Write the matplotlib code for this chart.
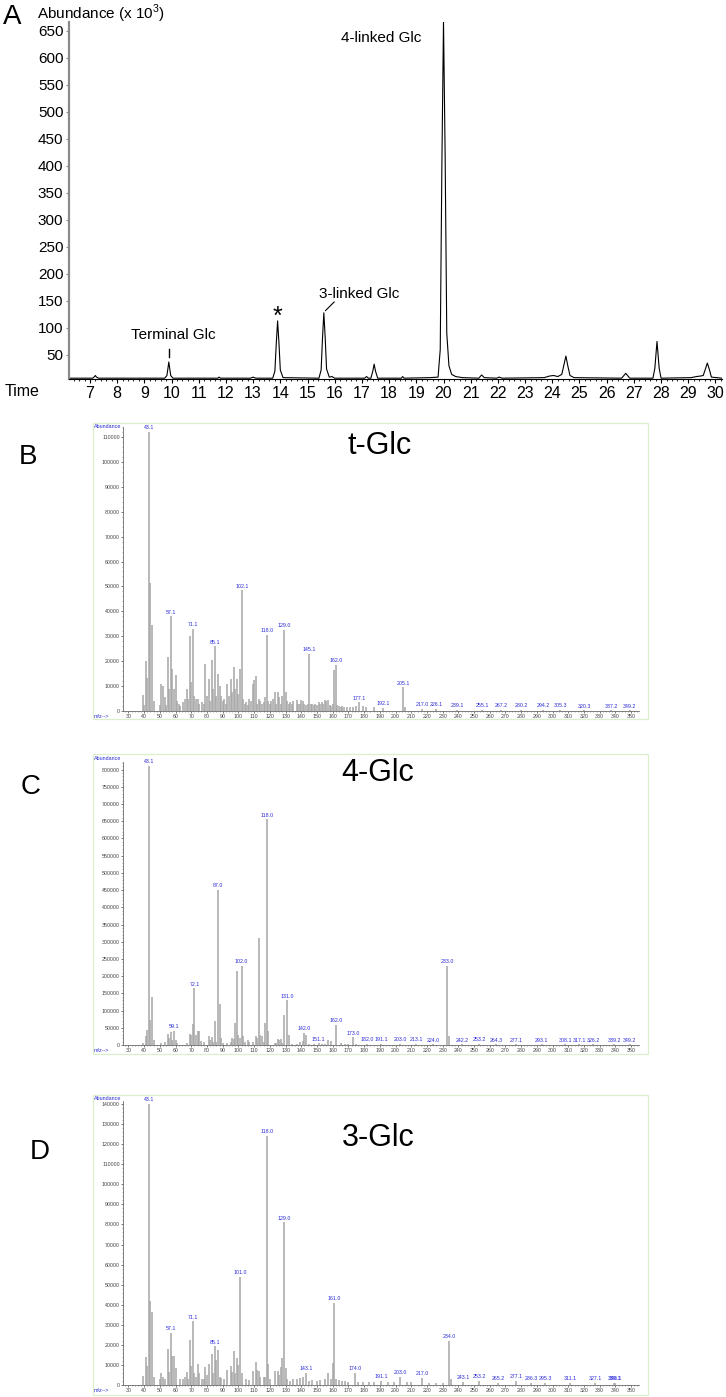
import matplotlib
matplotlib.use('Agg')
import matplotlib.pyplot as plt
from matplotlib.patches import Rectangle
from matplotlib.ticker import MultipleLocator

plt.rcParams['font.family'] = ['Liberation Sans', 'DejaVu Sans']
plt.rcParams['mathtext.fontset'] = 'custom'
plt.rcParams['mathtext.rm'] = 'Liberation Sans'

# ---- panel A: total ion chromatogram (time in min, abundance x 10^3) ----
chrom_time = [
    6.25, 7.10, 7.17, 7.20, 7.24, 7.32,
    9.75, 9.83, 9.87, 9.90, 9.93, 9.97, 10.05,
    11.7, 11.75, 11.8, 12.9, 13.0, 13.1,
    13.72, 13.80, 13.85, 13.90, 13.95, 14.00, 14.10,
    15.42, 15.50, 15.55, 15.60, 15.65, 15.70, 15.80, 15.90, 16.00,
    17.10, 17.17, 17.24, 17.33, 17.40, 17.45, 17.50, 17.58,
    18.45, 18.50, 18.55,
    19.50, 19.80, 19.88, 19.94, 20.00, 20.06, 20.12, 20.20, 20.30, 20.45, 20.70,
    21.30, 21.40, 21.50, 21.95, 22.05, 22.15,
    23.70, 23.90, 24.05, 24.20, 24.35, 24.42, 24.50, 24.57, 24.65, 24.80,
    26.55, 26.65, 26.70, 26.75, 26.85,
    27.70, 27.77, 27.85, 27.93, 28.00,
    29.10, 29.30, 29.45, 29.55, 29.63, 29.70, 29.77, 29.85, 30.24]
chrom_abund = [
    7, 7, 10, 12, 9, 7,
    7, 12, 26, 37, 26, 12, 7,
    7, 9, 7, 7, 9, 7,
    7, 20, 70, 113, 72, 22, 8,
    7, 22, 80, 128, 82, 24, 9, 10, 7,
    7, 10, 7, 7, 20, 33, 20, 7,
    7, 10, 7,
    8, 9, 60, 400, 668, 420, 90, 30, 14, 10, 8,
    7, 13, 8, 7, 9, 7,
    8, 11, 12, 10, 14, 30, 48, 30, 12, 8,
    7, 13, 16, 13, 7,
    7, 25, 75, 25, 7,
    8, 10, 11, 12, 24, 35, 24, 9, 7]
time_ticks = list(range(7, 31))
abund_ticks = list(range(50, 651, 50))

# ---- panel B: t-Glc spectrum ----
b_mz = [39, 40, 41, 42, 43, 44, 45, 46, 50, 51,
        52, 53, 54, 55, 56, 57, 58, 59, 60, 61,
        62, 63, 65, 66, 67, 68, 69, 70, 71, 72,
        73, 74, 75, 77, 78, 79, 80, 81, 82, 83,
        84, 85, 86, 87, 88, 89, 90, 91, 92, 93,
        94, 95, 96, 97, 98, 99, 100, 101, 102, 103,
        104, 105, 106, 107, 108, 109, 110, 111, 112, 113,
        114, 115, 116, 117, 118, 119, 120, 121, 122, 123,
        124, 125, 126, 127, 128, 129, 130, 131, 132, 133,
        134, 135, 137, 138, 139, 140, 141, 142, 143, 144,
        145, 146, 147, 148, 149, 150, 151, 152, 153, 154,
        155, 156, 157, 158, 159, 160, 161, 162, 163, 164,
        165, 166, 167, 169, 171, 173, 175, 177, 179, 181,
        186, 192, 205, 206, 217, 226, 239, 255, 267, 280,
        294, 305, 320, 337, 349]
b_int = [6500, 2500, 20000, 13300, 112000, 51300, 34500, 4000, 2500, 11000,
         10000, 5500, 2500, 21800, 8900, 38000, 16700, 9000, 14400, 4000,
         3000, 2000, 3500, 5000, 9000, 5000, 30000, 11700, 33000, 6000,
         5000, 5000, 3000, 3500, 3000, 18800, 6000, 13000, 4000, 20300,
         9000, 26000, 6000, 14700, 9900, 6000, 4000, 5000, 3000, 10800,
         6000, 12800, 7600, 17700, 9000, 13000, 7000, 16700, 48500, 5000,
         3000, 3500, 2500, 5000, 4000, 10800, 12500, 14100, 3000, 5000,
         4000, 3000, 3500, 5500, 30500, 4000, 3000, 4000, 5000, 7800,
         3000, 7800, 5500, 3000, 6000, 32500, 7500, 4000, 3000, 3500,
         3000, 4000, 4500, 3000, 3000, 4500, 4000, 3000, 2500, 3000,
         23000, 3000, 3000, 2500, 3000, 2500, 3500, 3000, 3500, 3000,
         4500, 4000, 4500, 2500, 2000, 3000, 16500, 18500, 2500, 2000,
         1500, 2000, 1500, 1500, 1500, 1500, 2000, 3500, 2000, 1500,
         1500, 1200, 9500, 1500, 800, 800, 600, 500, 500, 400,
         400, 400, 300, 300, 300]
b_labels = ['43.1', '57.1', '71.1', '85.1', '102.1', '118.0', '129.0', '145.1',
            '162.0', '177.1', '192.1', '205.1', '217.0', '226.1', '239.1', '255.1',
            '267.2', '280.2', '294.2', '305.3', '320.3', '337.2', '349.2']
b_yticks = list(range(0, 110001, 10000))

# ---- panel C: 4-Glc spectrum ----
c_mz = [39, 41, 42, 43, 44, 45, 46, 51, 53, 55,
        56, 57, 58, 59, 60, 61, 67, 69, 70, 71,
        72, 73, 74, 75, 76, 78, 81, 82, 83, 84,
        85, 86, 87, 88, 89, 90, 93, 95, 96, 97,
        98, 99, 100, 101, 102, 103, 104, 106, 107, 109,
        111, 112, 113, 114, 115, 116, 117, 118, 119, 123,
        124, 125, 126, 127, 128, 129, 131, 132, 134, 137,
        139, 141, 142, 143, 145, 148, 151, 153, 155, 157,
        159, 162, 165, 168, 170, 173, 175, 182, 191, 203,
        213, 224, 233, 234, 242, 253, 264, 277, 293, 308,
        317, 326, 339, 349]
c_int = [5000, 25000, 45000, 810000, 72000, 140000, 15000, 5000, 10000, 33000,
         20000, 38000, 15000, 42000, 15000, 5000, 5000, 32000, 30000, 62000,
         165000, 30000, 42000, 40000, 12000, 8000, 25000, 15000, 22000, 10000,
         70000, 10000, 450000, 120000, 20000, 5000, 5000, 10000, 20000, 18000,
         65000, 215000, 30000, 20000, 230000, 25000, 10000, 15000, 8000, 10000,
         25000, 20000, 310000, 30000, 25000, 10000, 65000, 655000, 40000, 5000,
         5000, 18000, 15000, 18000, 5000, 88000, 130000, 28000, 4000, 4000,
         10000, 12000, 35000, 30000, 4000, 3000, 5000, 3000, 4000, 15000,
         12000, 58000, 5000, 3000, 3000, 22000, 3000, 3000, 3000, 3000,
         2500, 2000, 230000, 25000, 2000, 3000, 2000, 2000, 1500, 1500,
         1500, 1500, 1500, 1500]
c_labels = ['43.1', '59.1', '72.1', '87.0', '102.0', '118.0', '131.0', '142.0',
            '151.1', '162.0', '173.0', '182.0', '191.1', '203.0', '213.1', '224.0',
            '233.0', '242.2', '253.2', '264.3', '277.1', '293.1', '308.1', '317.1',
            '326.2', '339.2', '349.2']
c_yticks = list(range(0, 800001, 50000))

# ---- panel D: 3-Glc spectrum ----
d_mz = [39, 41, 42, 43, 44, 45, 46, 50, 51, 52,
        53, 55, 56, 57, 58, 59, 60, 63, 65, 66,
        67, 68, 69, 70, 71, 72, 73, 74, 75, 77,
        78, 79, 80, 81, 83, 84, 85, 86, 87, 88,
        89, 91, 93, 95, 96, 97, 98, 99, 100, 101,
        102, 105, 107, 109, 111, 112, 113, 114, 116, 117,
        118, 119, 120, 123, 125, 126, 127, 128, 129, 130,
        131, 133, 135, 137, 139, 141, 143, 145, 147, 150,
        152, 155, 157, 159, 160, 161, 162, 164, 166, 168,
        170, 174, 176, 179, 183, 186, 191, 195, 199, 203,
        207, 210, 217, 221, 226, 230, 234, 235, 243, 253,
        265, 277, 286, 295, 311, 327, 339, 340]
d_int = [4600, 14000, 9300, 140000, 42000, 36500, 4000, 3000, 6000, 4000,
         3000, 18000, 6600, 26000, 14600, 14600, 8500, 3000, 3000, 4000,
         6600, 3000, 22600, 9300, 31700, 6000, 4000, 10600, 6000, 3000,
         3000, 8800, 5000, 10300, 15300, 6000, 19300, 12600, 17600, 4000,
         3500, 3000, 7600, 9300, 6300, 16800, 6000, 13600, 10100, 54000,
         6000, 3000, 2500, 7000, 11600, 7300, 7000, 4000, 4000, 4000,
         124000, 10600, 3000, 7000, 7000, 5000, 9000, 13300, 81000, 8300,
         3000, 2000, 3000, 3000, 3500, 4000, 6000, 2000, 2500, 2000,
         2500, 3000, 6000, 3000, 11000, 41000, 3000, 2500, 2000, 2000,
         1500, 6000, 1500, 1500, 1500, 1500, 2000, 1500, 1500, 4000,
         1500, 1500, 3500, 1200, 1000, 1000, 22000, 3000, 1500, 2000,
         1000, 2000, 1000, 1000, 1000, 1000, 1000, 1000]
d_labels = ['43.1', '57.1', '71.1', '85.1', '101.0', '118.0', '129.0', '143.1',
            '161.0', '174.0', '191.1', '203.0', '217.0', '234.0', '243.1', '253.2',
            '265.2', '277.1', '286.3', '295.3', '311.1', '327.1', '339.1', '340.1']
d_yticks = list(range(0, 140001, 10000))

mz_ticks = list(range(30, 351, 10))

W, H = 726, 1397
fig = plt.figure(figsize=(W / 100, H / 100), dpi=100)


def box(l, t, r, b):
    return [l / W, 1 - b / H, (r - l) / W, (b - t) / H]


def ftext(x, y, s, **kw):
    fig.text(x / W, 1 - y / H, s, **kw)


# ----- A -----
ax = fig.add_axes(box(69, 22, 722, 379))
ax.plot(chrom_time, chrom_abund, color='black', lw=0.8)
ax.set_xlim(6.23, 30.24)
ax.set_ylim(5.5, 666)
ax.spines['top'].set_visible(False)
ax.spines['right'].set_visible(False)
ax.spines['left'].set_color('#8a8a8a')
ax.spines['left'].set_linewidth(1.6)
ax.spines['bottom'].set_linewidth(0.8)
ax.set_yticks(abund_ticks)
ax.set_xticks(time_ticks)
ax.xaxis.set_minor_locator(MultipleLocator(0.2))
ax.tick_params(axis='y', labelsize=11, length=2, pad=2, color='#8a8a8a')
ax.tick_params(axis='x', which='major', labelsize=11.5, length=3, pad=2)
ax.tick_params(axis='x', which='minor', length=1.5, width=0.6)

ax.text(17.72, 636, '4-linked Glc', fontsize=11, ha='center', va='center')
ax.text(16.9, 163, '3-linked Glc', fontsize=11, ha='center', va='center')
ax.plot([15.66, 15.98], [132, 148], color='black', lw=0.8)
ax.text(13.9, 121, '*', fontsize=18, ha='center', va='center')
ax.text(10.05, 87, 'Terminal Glc', fontsize=11, ha='center', va='center')
ax.plot([9.9, 9.9], [46, 61], color='black', lw=1.0)

ftext(12, 17, 'A', fontsize=20, ha='center', va='center')
ftext(37, 14, r'Abundance (x 10$^3$)', fontsize=11, ha='left', va='center')
ftext(22, 392, 'Time', fontsize=11.5, ha='center', va='center')


# ----- mass spectra -----
def spectrum(frame, axbox, ytop, yticks, mz, inten, labels, title, title_xy,
             letter, letter_xy, yabund, ymz):
    l, t, r, b = frame
    fig.add_artist(Rectangle((l / W, 1 - b / H), (r - l) / W, (b - t) / H,
                             transform=fig.transFigure, fill=False,
                             edgecolor='#dcefcc', lw=0.9))
    sp = fig.add_axes(box(*axbox))
    sp.vlines(mz, 0, inten, color='#a6a6a6', lw=1.1)
    sp.set_xlim(26.5, 355)
    sp.set_ylim(0, ytop)
    for s in ['top', 'right']:
        sp.spines[s].set_visible(False)
    for s in ['left', 'bottom']:
        sp.spines[s].set_color('#6a6a6a')
        sp.spines[s].set_linewidth(0.6)
    sp.set_xticks(mz_ticks)
    sp.xaxis.set_minor_locator(MultipleLocator(2))
    sp.set_yticks(yticks)
    sp.yaxis.set_minor_locator(MultipleLocator(yticks[1] / 5))
    sp.tick_params(which='major', labelsize=3.8, length=1.5, width=0.5,
                   pad=0.8, colors='#444444')
    sp.tick_params(which='minor', length=0.8, width=0.4, colors='#666666')
    heights = dict(zip(mz, inten))
    for lab in labels:
        pos = float(lab)
        h = heights.get(int(round(pos)), 0)
        sp.annotate(lab, (pos, h), xytext=(0, 1.2), textcoords='offset points',
                    ha='center', va='bottom', fontsize=3.8, color='#2a2ad8',
                    annotation_clip=False)
    ftext(title_xy[0], title_xy[1], title, fontsize=22, ha='center', va='center')
    ftext(letter_xy[0], letter_xy[1], letter, fontsize=20, ha='center', va='center')
    ftext(94, yabund, 'Abundance', fontsize=3.9, color='#2a2ad8', ha='left', va='center')
    ftext(94, ymz, 'm/z-->', fontsize=3.9, color='#2a2ad8', ha='left', va='center')


spectrum((93, 423, 648, 719), (123, 427, 639, 711), 114000, b_yticks,
         b_mz, b_int, b_labels, 't-Glc', (380, 446), 'B', (28, 457), 426, 716)
spectrum((93, 754, 648, 1054), (123, 762, 639, 1045), 822000, c_yticks,
         c_mz, c_int, c_labels, '4-Glc', (378, 773), 'C', (31, 787), 758, 1051)
spectrum((93, 1095, 648, 1395), (123, 1101, 639, 1385), 141500, d_yticks,
         d_mz, d_int, d_labels, '3-Glc', (378, 1138), 'D', (39.5, 1152), 1099, 1391)

fig.savefig('out.png', dpi=100)
